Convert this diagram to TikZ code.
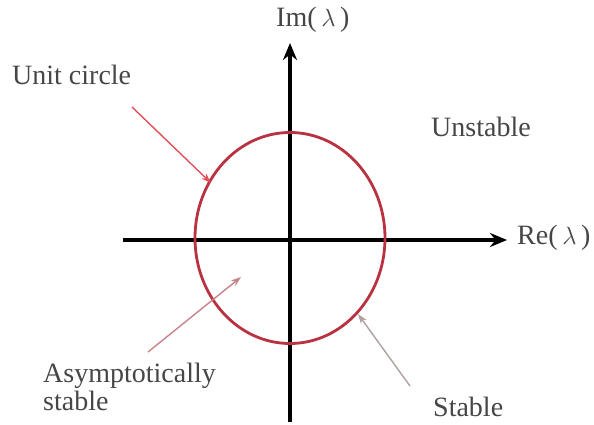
\documentclass[tikz,border=0pt]{standalone}
\usepackage{fontspec}
\setmainfont{Liberation Serif}
\newfontfamily\lserif{Liberation Serif}
\usetikzlibrary{arrows.meta,shapes.geometric}
\definecolor{circred}{RGB}{185,50,65}
\definecolor{txtgray}{RGB}{70,70,70}
\definecolor{arrred}{RGB}{225,80,90}
\definecolor{arrpink}{RGB}{200,130,140}
\definecolor{arrgray}{RGB}{175,160,160}
\tikzset{
  axis/.style={line width=3.2pt, black, -{Stealth[length=17pt,width=14pt]}},
  lbl/.style={text=txtgray, font=\lserif\fontsize{28}{28}\selectfont, inner sep=0pt},
  pointer/.style={line width=1.4pt, -{Stealth[length=10pt,width=7pt]}}
}
\begin{document}
\begin{tikzpicture}[x=1pt,y=-1pt]
\useasboundingbox (0,0) rectangle (594,425);
% axes
\coordinate (xs) at (123,240);
\coordinate (xe) at (507,240);
\coordinate (ys) at (290,422);
\coordinate (ye) at (290,43);
\draw[axis] (xs) -- (xe);
\draw[axis] (ys) -- (ye);
% unit circle
\node[draw=circred, line width=2.8pt, ellipse, minimum width=190pt, minimum height=211pt, inner sep=0pt] (circ) at (290,238) {};
% labels
\node[lbl, anchor=west] (im) at (276,20) {Im(\,$\lambda$\,)};
\node[lbl, anchor=west] (re) at (517,238) {Re(\,$\lambda$\,)};
\node[lbl, anchor=west] (uc) at (12,75) {Unit circle};
\node[lbl, anchor=west] (un) at (431,127) {Unstable};
\node[lbl, anchor=north west, align=left] (as) at (43,363) {Asymptotically\\stable};
\node[lbl, anchor=west] (st) at (433,407) {Stable};
% pointers
\coordinate (ucs) at (132,107);
\coordinate (uce) at (211,183);
\draw[pointer, arrred] (ucs) -- (uce);
\coordinate (ass) at (148,352);
\coordinate (ase) at (241,277);
\draw[pointer, arrpink] (ass) -- (ase);
\coordinate (sts) at (410,386);
\coordinate (ste) at (358,314);
\draw[pointer, arrgray] (sts) -- (ste);
\end{tikzpicture}
\end{document}
